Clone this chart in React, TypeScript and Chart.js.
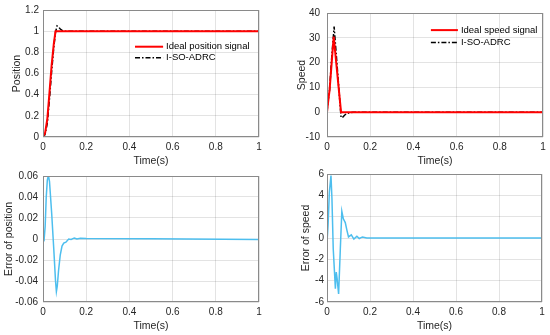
import React, { useEffect, useRef } from "react";
import { Chart, registerables } from "chart.js";
Chart.register(...registerables);

// ---------- data ----------
const xTicks = [0, 0.2, 0.4, 0.6, 0.8, 1];
const xTickLabels = ["0", "0.2", "0.4", "0.6", "0.8", "1"];

const posIdealT = [0, 0.01, 0.02, 0.03, 0.04, 0.05, 0.058, 1];
const posIdealY = [0, 0.04, 0.17, 0.42, 0.68, 0.88, 1.0, 1.0];
const posAdrcT = [0, 0.005, 0.01, 0.02, 0.03, 0.04, 0.05, 0.058, 0.065, 0.072, 0.08, 0.09, 0.1, 1];
const posAdrcY = [0, 0.005, 0.03, 0.13, 0.36, 0.62, 0.85, 0.99, 1.05, 1.04, 1.02, 1.005, 1.0, 1.0];
const posYTicks = [0, 0.2, 0.4, 0.6, 0.8, 1, 1.2];
const posYTickLabels = ["0", "0.2", "0.4", "0.6", "0.8", "1", "1.2"];

const spdIdealT = [0, 0.005, 0.012, 0.031, 0.065, 1];
const spdIdealY = [0, 4, 9, 30.5, 0, 0];
const spdAdrcT = [0, 0.004, 0.012, 0.02, 0.033, 0.065, 0.07, 0.08, 0.09, 0.1, 0.12, 1];
const spdAdrcY = [0, 4, 9, 20, 34.5, -2, -2.3, -1.3, -0.6, -0.3, 0, 0];
const spdYTicks = [-10, 0, 10, 20, 30, 40];
const spdYTickLabels = ["-10", "0", "10", "20", "30", "40"];

const errPosT = [0, 0.005, 0.01, 0.015, 0.02, 0.025, 0.03, 0.04, 0.05, 0.058, 0.062, 0.066, 0.072, 0.08, 0.088, 0.096, 0.106, 0.119, 0.13, 0.145, 0.157, 0.173, 0.2, 0.5, 1];
const errPosY = [0, -0.001, 0.012, 0.04, 0.056, 0.0605, 0.055, 0.025, -0.01, -0.04, -0.05, -0.045, -0.03, -0.015, -0.0067, -0.004, -0.003, 0, -0.0005, 0.001, 0, 0.0008, 0.0004, 0.0002, -0.0005];
const errPosYTicks = [-0.06, -0.04, -0.02, 0, 0.02, 0.04, 0.06];
const errPosYTickLabels = ["-0.06", "-0.04", "-0.02", "0", "0.02", "0.04", "0.06"];

const errSpdT = [0, 0.005, 0.011, 0.0185, 0.023, 0.029, 0.039, 0.043, 0.047, 0.054, 0.062, 0.069, 0.076, 0.085, 0.093, 0.1, 0.113, 0.125, 0.139, 0.15, 0.165, 0.185, 1];
const errSpdY = [-0.4, 1.2, 4.3, 5.85, 3.7, -1, -4.76, -3.2, -3.8, -5.25, -1, 2.5, 1.8, 1.45, 0.7, 0.1, 0.3, -0.1, 0.17, -0.05, 0.1, 0, 0];
const errSpdYTicks = [-6, -4, -2, 0, 2, 4, 6];
const errSpdYTickLabels = ["-6", "-4", "-2", "0", "2", "4", "6"];

// ---------- styling ----------
const FONT = '"Liberation Sans", Arial, Helvetica, sans-serif';
const TEXT = "#262626";
const GRID = "rgba(38,38,38,0.13)";
const RED = "#ff0000";
const BLACK = "#000000";
const CYAN = "#4DBEEE";
const DASHDOT = [5, 2, 1.5, 2];

const pts = (t: number[], y: number[]) => t.map((v, i) => ({ x: v, y: y[i] }));

const boxPlugin = {
  id: "boxBorder",
  afterDraw(chart: any) {
    const { ctx, chartArea: a } = chart;
    ctx.save();
    ctx.strokeStyle = "#8a8a8a";
    ctx.lineWidth = 1;
    ctx.strokeRect(Math.round(a.left) + 0.5, Math.round(a.top) + 0.5, Math.round(a.width) - 1, Math.round(a.height) - 1);
    ctx.restore();
  },
};

const legendPlugin = {
  id: "miniLegend",
  afterDraw(chart: any, _args: any, opts: any) {
    if (!opts || !opts.items) return;
    const { ctx, chartArea: a } = chart;
    const x0 = a.left + opts.x0 * a.width;
    const x1 = a.left + opts.x1 * a.width;
    ctx.save();
    opts.items.forEach((it: any, i: number) => {
      const y = a.top + opts.rows[i] * a.height;
      ctx.beginPath();
      ctx.strokeStyle = it.color;
      ctx.lineWidth = it.width;
      ctx.setLineDash(it.dash || []);
      ctx.moveTo(x0, y);
      ctx.lineTo(x1, y);
      ctx.stroke();
      ctx.setLineDash([]);
      ctx.fillStyle = "#000";
      ctx.font = `9.5px ${FONT}`;
      ctx.textBaseline = "middle";
      ctx.textAlign = "left";
      ctx.fillText(it.label, x1 + 3, y);
    });
    ctx.restore();
  },
};

type PanelProps = {
  left: number;
  top: number;
  width: number;
  height: number;
  padTop: number;
  padRight: number;
  yWidth: number;
  xHeight: number;
  yMin: number;
  yMax: number;
  yTicks: number[];
  yTickLabels: string[];
  yTitle: string;
  yTitlePad: number;
  yTickPad: number;
  datasets: any[];
  legend?: any;
};

function Panel(p: PanelProps) {
  const ref = useRef<HTMLCanvasElement>(null);
  useEffect(() => {
    if (!ref.current) return;
    const chart = new Chart(ref.current, {
      type: "line",
      data: { datasets: p.datasets },
      plugins: [boxPlugin, legendPlugin],
      options: {
        animation: false,
        responsive: false,
        maintainAspectRatio: false,
        layout: { padding: { top: p.padTop, right: p.padRight, left: 0, bottom: 0 } },
        elements: { point: { radius: 0 }, line: { tension: 0 } },
        plugins: {
          legend: { display: false },
          tooltip: { enabled: false },
          miniLegend: p.legend || {},
        } as any,
        scales: {
          x: {
            type: "linear",
            min: 0,
            max: 1,
            afterBuildTicks: (s: any) => {
              s.ticks = xTicks.map((v) => ({ value: v }));
            },
            afterFit: (s: any) => {
              s.height = p.xHeight;
            },
            ticks: {
              callback: (_v: any, i: number) => xTickLabels[i],
              font: { family: FONT, size: 10 },
              color: TEXT,
              padding: 4,
              maxRotation: 0,
              autoSkip: false,
            },
            grid: { color: GRID, drawTicks: false },
            border: { display: false },
            title: {
              display: true,
              text: "Time(s)",
              font: { family: FONT, size: 10.5 },
              color: TEXT,
              padding: { top: 0, bottom: 2.7 },
            },
          },
          y: {
            type: "linear",
            min: p.yMin,
            max: p.yMax,
            afterBuildTicks: (s: any) => {
              s.ticks = p.yTicks.map((v) => ({ value: v }));
            },
            afterFit: (s: any) => {
              s.width = p.yWidth;
            },
            ticks: {
              callback: (_v: any, i: number) => p.yTickLabels[i],
              font: { family: FONT, size: 10 },
              color: TEXT,
              padding: p.yTickPad,
              autoSkip: false,
            },
            grid: { color: GRID, drawTicks: false },
            border: { display: false },
            title: {
              display: true,
              text: p.yTitle,
              font: { family: FONT, size: 10.5 },
              color: TEXT,
              padding: { top: p.yTitlePad, bottom: 0 },
            },
          },
        },
      } as any,
    });
    return () => chart.destroy();
  }, []);
  return (
    <canvas
      ref={ref}
      width={p.width}
      height={p.height}
      style={{ position: "absolute", left: p.left, top: p.top, width: p.width, height: p.height }}
    />
  );
}

export default function App() {
  return (
    <div style={{ position: "absolute", left: 0, top: 0, width: 550, height: 335, background: "#fff", overflow: "hidden" }}>
      <Panel
        left={0}
        top={0}
        width={275}
        height={170}
        padTop={9}
        padRight={16}
        yWidth={43}
        xHeight={33}
        yMin={0}
        yMax={1.2}
        yTicks={posYTicks}
        yTickLabels={posYTickLabels}
        yTitle="Position"
        yTitlePad={11}
        yTickPad={4}
        datasets={[
          { data: pts(posIdealT, posIdealY), borderColor: RED, borderWidth: 2, parsing: false },
          { data: pts(posAdrcT, posAdrcY), borderColor: BLACK, borderWidth: 1.5, borderDash: DASHDOT, parsing: false },
        ]}
        legend={{
          x0: 0.426,
          x1: 0.556,
          rows: [0.289, 0.375],
          items: [
            { label: "Ideal position signal", color: RED, width: 2 },
            { label: "I-SO-ADRC", color: BLACK, width: 1.5, dash: DASHDOT },
          ],
        }}
      />
      <Panel
        left={275}
        top={0}
        width={275}
        height={170}
        padTop={9}
        padRight={7}
        yWidth={52}
        xHeight={33}
        yMin={-10}
        yMax={40}
        yTicks={spdYTicks}
        yTickLabels={spdYTickLabels}
        yTitle="Speed"
        yTitlePad={20.4}
        yTickPad={7}
        datasets={[
          { data: pts(spdIdealT, spdIdealY), borderColor: RED, borderWidth: 2, parsing: false },
          { data: pts(spdAdrcT, spdAdrcY), borderColor: BLACK, borderWidth: 1.5, borderDash: DASHDOT, parsing: false },
        ]}
        legend={{
          x0: 0.481,
          x1: 0.606,
          rows: [0.138, 0.237],
          items: [
            { label: "Ideal speed signal", color: RED, width: 2 },
            { label: "I-SO-ADRC", color: BLACK, width: 1.5, dash: DASHDOT },
          ],
        }}
      />
      <Panel
        left={0}
        top={165}
        width={275}
        height={170}
        padTop={8}
        padRight={16}
        yWidth={43}
        xHeight={33}
        yMin={-0.06}
        yMax={0.06}
        yTicks={errPosYTicks}
        yTickLabels={errPosYTickLabels}
        yTitle="Error of position"
        yTitlePad={3.2}
        yTickPad={5}
        datasets={[{ data: pts(errPosT, errPosY), borderColor: CYAN, borderWidth: 1.5, parsing: false }]}
      />
      <Panel
        left={275}
        top={165}
        width={275}
        height={170}
        padTop={8}
        padRight={8}
        yWidth={52}
        xHeight={33}
        yMin={-6}
        yMax={6}
        yTicks={errSpdYTicks}
        yTickLabels={errSpdYTickLabels}
        yTitle="Error of speed"
        yTitlePad={25}
        yTickPad={3}
        datasets={[{ data: pts(errSpdT, errSpdY), borderColor: CYAN, borderWidth: 1.5, parsing: false }]}
      />
    </div>
  );
}
